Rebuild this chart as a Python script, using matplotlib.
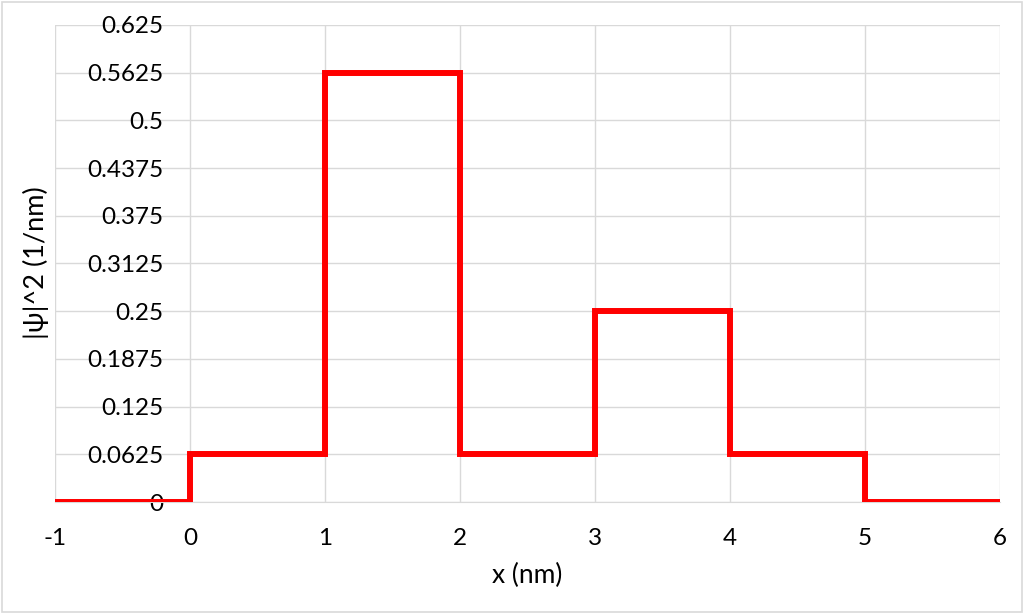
import matplotlib.pyplot as plt
from matplotlib.patches import Rectangle

# step edges (nm) and |psi|^2 on each interval
edges = [-1, 0, 1, 2, 3, 4, 5, 6]
psi2 = [0, 0.0625, 0.5625, 0.0625, 0.25, 0.0625, 0]

yticks = [0, 0.0625, 0.125, 0.1875, 0.25, 0.3125, 0.375, 0.4375, 0.5, 0.5625, 0.625]
ytick_labels = ["0", "0.0625", "0.125", "0.1875", "0.25", "0.3125", "0.375",
                "0.4375", "0.5", "0.5625", "0.625"]

plt.rcParams["font.family"] = ["Lato", "DejaVu Sans"]
plt.rcParams["axes.unicode_minus"] = False

fs = 17.5

fig = plt.figure(figsize=(10.24, 6.14), dpi=100)
ax = fig.add_axes([0.0537, 0.1824, 0.9229, 0.7769])

ax.stairs(psi2, edges, color="#ff0000", linewidth=4.3, baseline=None, zorder=3)

ax.set_xlim(-1, 6)
ax.set_ylim(0, 0.625)
ax.set_xticks(range(-1, 7))
ax.set_yticks(yticks)
ax.set_yticklabels(ytick_labels)
ax.tick_params(labelsize=fs, length=0, colors="black")
ax.tick_params(axis="x", pad=19)
ax.tick_params(axis="y", pad=19)

ax.grid(True, color="#d9d9d9", linewidth=1)
ax.set_axisbelow(True)
for s in ["top", "right"]:
    ax.spines[s].set_visible(False)
ax.spines["left"].set_position(("data", 0))
ax.spines["left"].set_visible(False)
ax.spines["bottom"].set_color("#d9d9d9")

ax.set_xlabel("x (nm)", fontsize=19, labelpad=10)
fig.text(0.035, 0.572, "|ψ|^2 (1/nm)", rotation=90, fontsize=19.5,
         ha="center", va="center")

fig.patches.append(Rectangle((0.002, 0.003), 0.996, 0.994, transform=fig.transFigure,
                             fill=False, edgecolor="#d9d9d9", linewidth=1.2))

fig.savefig("out.png", dpi=100)
